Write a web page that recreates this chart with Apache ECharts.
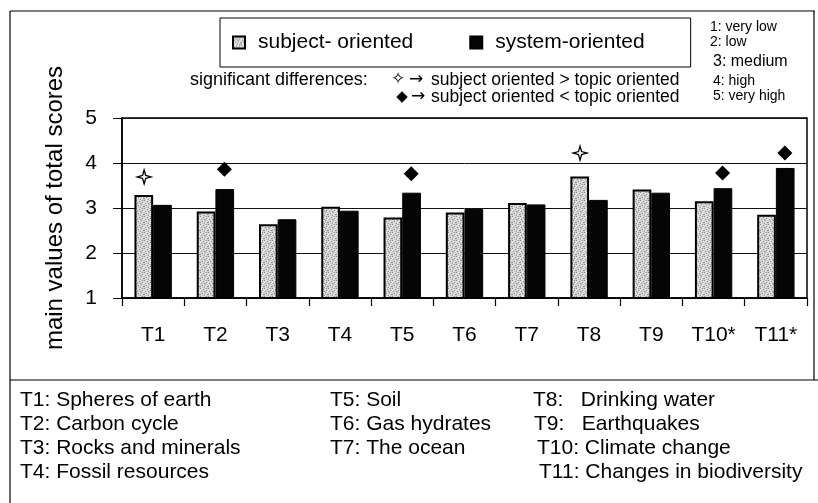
<!DOCTYPE html>
<html>
<head>
<meta charset="utf-8">
<script src="https://cdn.jsdelivr.net/npm/echarts@6/dist/echarts.min.js"></script>
<style>
  html, body { margin: 0; padding: 0; background: #fff; }
  #chart { width: 818px; height: 503px; }
</style>
</head>
<body>
<div id="chart"></div>
<script>
// Topics on the x axis
const topics = ['T1', 'T2', 'T3', 'T4', 'T5', 'T6', 'T7', 'T8', 'T9', 'T10*', 'T11*'];

// Mean values of total scores per teaching approach
const subjectOriented = [3.29, 2.92, 2.64, 3.03, 2.79, 2.90, 3.11, 3.70, 3.41, 3.15, 2.85];
const systemOriented  = [3.07, 3.42, 2.75, 2.94, 3.34, 2.98, 3.08, 3.18, 3.34, 3.44, 3.89];

// Significance markers: [topic, height]
const sigSubjectHigher = [['T1', 3.69], ['T8', 4.22]];
const sigSubjectLower  = [['T2', 3.86], ['T5', 3.76], ['T10*', 3.78], ['T11*', 4.22]];

// Rating scale
const scaleLabels = ['1: very low', '2: low', '3: medium', '4: high', '5: very high'];

// Topic key, three columns
const keyCol1 = ['T1: Spheres of earth', 'T2: Carbon cycle', 'T3: Rocks and minerals', 'T4: Fossil resources'];
const keyCol2 = ['T5: Soil', 'T6: Gas hydrates', 'T7: The ocean'];
const keyCol3 = ['T8:   Drinking water', 'T9:   Earthquakes', 'T10: Climate change', 'T11: Changes in biodiversity'];

const FONT = '"Liberation Sans", Arial, sans-serif';
const SYMFONT = '"DejaVu Sans", sans-serif';

// Stippled grey fill for the subject-oriented bars
function stipple() {
  const c = document.createElement('canvas');
  c.width = 8; c.height = 8;
  const g = c.getContext('2d');
  g.fillStyle = '#d4d4d4';
  g.fillRect(0, 0, 8, 8);
  g.fillStyle = '#8c8c8c';
  [[0,0],[3,1],[6,2],[1,3],[5,4],[2,5],[7,6],[4,7],[0,6],[6,0],[4,3]].forEach(function (p) {
    g.fillRect(p[0], p[1], 1, 1);
  });
  g.fillStyle = '#f2f2f2';
  [[2,0],[5,1],[0,2],[7,3],[3,4],[6,5],[1,6],[5,7]].forEach(function (p) {
    g.fillRect(p[0], p[1], 1, 1);
  });
  return c;
}

const starPath = 'path://M0,-10 L2.2,-2.2 L10,0 L2.2,2.2 L0,10 L-2.2,2.2 L-10,0 L-2.2,-2.2 Z';

function textEl(x, y, text, size, align, family) {
  return {
    type: 'text', x: x, y: y, silent: true,
    style: { text: text, fill: '#000', font: size + 'px ' + (family || FONT), textAlign: align || 'left', textVerticalAlign: 'middle' }
  };
}
function lineEl(x1, y1, x2, y2, w) {
  return { type: 'line', silent: true, shape: { x1: x1, y1: y1, x2: x2, y2: y2 }, style: { stroke: '#000', lineWidth: w || 1.2 } };
}

const graphics = [];
// outer frame and separator above the key
graphics.push(lineEl(10, 11, 815, 11));
graphics.push(lineEl(10, 11, 10, 503));
graphics.push(lineEl(814, 11, 814, 380));
graphics.push(lineEl(10, 380, 818, 380));

// rating scale
const scaleY = [27, 42, 62, 81, 96];
const scaleX = [710, 710, 713, 713, 713];
const scaleSize = [14, 14, 16, 14, 14];
scaleLabels.forEach(function (t, i) { graphics.push(textEl(scaleX[i], scaleY[i], t, scaleSize[i])); });

// significance explanation
graphics.push(textEl(190, 80, 'significant differences:', 18));
graphics.push(textEl(398, 80, '\u2727', 17, 'center', SYMFONT));
graphics.push(textEl(416, 80, '\u2192', 17, 'center', SYMFONT));
graphics.push(textEl(431, 80, 'subject oriented > topic oriented', 17.5));
graphics.push(textEl(402, 97, '\u25C6', 15, 'center', SYMFONT));
graphics.push(textEl(418, 97, '\u2192', 17, 'center', SYMFONT));
graphics.push(textEl(431, 97, 'subject oriented < topic oriented', 17.5));

// topic key
const keyY = [400, 424, 448, 472];
keyCol1.forEach(function (t, i) { graphics.push(textEl(20, keyY[i], t, 21)); });
keyCol2.forEach(function (t, i) { graphics.push(textEl(330, keyY[i], t, 21)); });
const col3X = [533, 534, 537, 539];
keyCol3.forEach(function (t, i) { graphics.push(textEl(col3X[i], keyY[i], t, 21)); });

const chart = echarts.init(document.getElementById('chart'), null, { renderer: 'canvas' });
chart.setOption({
  animation: false,
  backgroundColor: '#fff',
  textStyle: { fontFamily: FONT, color: '#000' },
  legend: {
    data: ['subject- oriented', 'system-oriented'],
    left: 220, top: 18,
    padding: [14, 46, 14, 12],
    itemGap: 56,
    itemWidth: 12, itemHeight: 12,
    icon: 'rect',
    borderColor: '#000', borderWidth: 1,
    textStyle: { fontSize: 21, color: '#000', fontFamily: FONT, padding: [0, 0, 0, 8] }
  },
  grid: {
    left: 122, right: 11, top: 118, bottom: 205,
    show: true, borderColor: '#000', borderWidth: 1.5, backgroundColor: '#fff'
  },
  xAxis: {
    type: 'category',
    data: topics,
    boundaryGap: true,
    axisLine: { lineStyle: { color: '#000', width: 1.5 } },
    axisTick: { show: true, length: 8, lineStyle: { color: '#000', width: 1.2 } },
    axisLabel: { fontSize: 21, color: '#000', margin: 27, fontFamily: FONT }
  },
  yAxis: {
    type: 'value',
    min: 1, max: 5, interval: 1,
    name: 'main values of total scores',
    nameLocation: 'middle',
    nameGap: 55,
    nameRotate: 90,
    nameTextStyle: { fontSize: 24, color: '#000', fontFamily: FONT },
    axisLine: { show: true, lineStyle: { color: '#000', width: 1.5 } },
    axisTick: { show: true, length: 9, lineStyle: { color: '#000' } },
    axisLabel: { fontSize: 21, color: '#000', margin: 25, fontFamily: FONT },
    splitLine: { show: true, lineStyle: { color: '#111', width: 1 } }
  },
  series: [
    {
      name: 'subject- oriented', type: 'bar', data: subjectOriented,
      barGap: '0%', barCategoryGap: '40%',
      itemStyle: { color: { image: stipple(), repeat: 'repeat' }, borderColor: '#000', borderWidth: 2 }
    },
    {
      name: 'system-oriented', type: 'bar', data: systemOriented,
      barGap: '0%', barCategoryGap: '40%',
      itemStyle: { color: '#050505', borderColor: '#000', borderWidth: 1 }
    },
    {
      name: 'subject > system', type: 'scatter', data: sigSubjectHigher,
      symbol: starPath, symbolSize: 14, symbolOffset: [-9, 0],
      itemStyle: { color: '#fff', borderColor: '#000', borderWidth: 1.3, opacity: 1 }, z: 5
    },
    {
      name: 'subject < system', type: 'scatter', data: sigSubjectLower,
      symbol: 'diamond', symbolSize: [15, 15], symbolOffset: [9, 0],
      itemStyle: { color: '#000', opacity: 1 }, z: 5
    }
  ],
  graphic: graphics
});
</script>
</body>
</html>
